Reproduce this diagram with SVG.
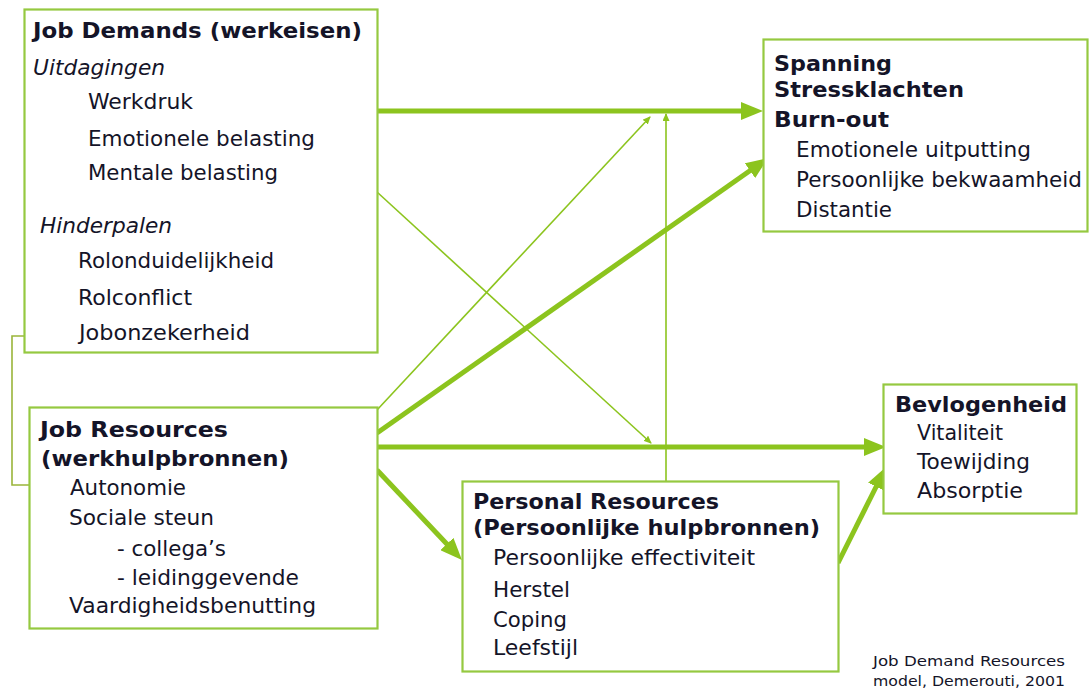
<svg xmlns="http://www.w3.org/2000/svg" width="1091" height="689" viewBox="0 0 1091 689">
<style>
.box{fill:#fff;stroke:#95c940;stroke-width:2.2}
.t{font-family:"DejaVu Sans","Liberation Sans",sans-serif;font-size:21.5px;fill:#141428}
.b{font-weight:bold}
.i{font-style:italic}
.cap{font-family:"DejaVu Sans","Liberation Sans",sans-serif;font-size:14px;fill:#141428}
.thick{stroke:#8cc41e;stroke-width:5;fill:none}
.thin{stroke:#8cc41e;stroke-width:1.6;fill:none}
</style>
<defs>
<marker id="big" markerUnits="userSpaceOnUse" markerWidth="22" markerHeight="18" viewBox="0 0 22 18" refX="12" refY="9" orient="auto"><path d="M0,0 L22,9 L0,18 z" fill="#8cc41e"/></marker>
<marker id="small" markerUnits="userSpaceOnUse" markerWidth="8" markerHeight="7" viewBox="0 0 8 7" refX="7" refY="3.5" orient="auto"><path d="M0,0 L8,3.5 L0,7 z" fill="#8cc41e"/></marker>
</defs>
<rect width="1091" height="689" fill="#fff"/>
<g id="connectors">
<polyline points="24,336 12,336 12,485 33,485" fill="none" stroke="#9ab53a" stroke-width="1.6"/>
<line class="thin" x1="377" y1="192" x2="651" y2="443" marker-end="url(#small)"/>
<line class="thin" x1="377" y1="410" x2="650" y2="117" marker-end="url(#small)"/>
<line class="thin" x1="666" y1="481" x2="666" y2="114" marker-end="url(#small)"/>
<line class="thick" x1="377" y1="111" x2="753" y2="111" marker-end="url(#big)"/>
<line class="thick" x1="377" y1="433" x2="759.8" y2="163.8" marker-end="url(#big)"/>
<line class="thick" x1="377" y1="447" x2="876" y2="447" marker-end="url(#big)"/>
<line class="thick" x1="377" y1="470" x2="455.1" y2="552.7" marker-end="url(#big)"/>
<line class="thick" x1="838" y1="563" x2="881.5" y2="476" marker-end="url(#big)"/>
</g>
<g id="job-demands">
<rect class="box" x="24.5" y="9.5" width="353" height="343"/>
<text class="t b" x="33" y="38" font-size="22.5" textLength="329" lengthAdjust="spacingAndGlyphs">Job Demands (werkeisen)</text>
<text class="t i" x="33" y="75" textLength="132" lengthAdjust="spacingAndGlyphs">Uitdagingen</text>
<text class="t" x="88" y="109" textLength="105" lengthAdjust="spacingAndGlyphs">Werkdruk</text>
<text class="t" x="88" y="146" textLength="227" lengthAdjust="spacingAndGlyphs">Emotionele  belasting</text>
<text class="t" x="88" y="180" textLength="190" lengthAdjust="spacingAndGlyphs">Mentale belasting</text>
<text class="t i" x="40" y="233" textLength="132" lengthAdjust="spacingAndGlyphs">Hinderpalen</text>
<text class="t" x="78" y="268" textLength="196" lengthAdjust="spacingAndGlyphs">Rolonduidelijkheid</text>
<text class="t" x="78" y="305" textLength="114" lengthAdjust="spacingAndGlyphs">Rolconflict</text>
<text class="t" x="79" y="340" textLength="171" lengthAdjust="spacingAndGlyphs">Jobonzekerheid</text>
</g>
<g id="job-resources">
<rect class="box" x="29.5" y="407.5" width="348" height="221"/>
<text class="t b" x="40" y="437" textLength="188" lengthAdjust="spacingAndGlyphs">Job Resources</text>
<text class="t b" x="41" y="466" textLength="248" lengthAdjust="spacingAndGlyphs">(werkhulpbronnen)</text>
<text class="t" x="70" y="495" textLength="116" lengthAdjust="spacingAndGlyphs">Autonomie</text>
<text class="t" x="69" y="525" textLength="145" lengthAdjust="spacingAndGlyphs">Sociale steun</text>
<text class="t" x="117" y="556" textLength="109" lengthAdjust="spacingAndGlyphs">- collega’s</text>
<text class="t" x="117" y="585" textLength="182" lengthAdjust="spacingAndGlyphs">- leidinggevende</text>
<text class="t" x="69" y="613" textLength="247" lengthAdjust="spacingAndGlyphs">Vaardigheidsbenutting</text>
</g>
<g id="spanning">
<rect class="box" x="763.5" y="39.5" width="324" height="192"/>
<text class="t b" x="774" y="71" textLength="118" lengthAdjust="spacingAndGlyphs">Spanning</text>
<text class="t b" x="774" y="97" textLength="190" lengthAdjust="spacingAndGlyphs">Stressklachten</text>
<text class="t b" x="774" y="127" textLength="115" lengthAdjust="spacingAndGlyphs">Burn-out</text>
<text class="t" x="796" y="157" textLength="235" lengthAdjust="spacingAndGlyphs">Emotionele uitputting</text>
<text class="t" x="796" y="187" textLength="286" lengthAdjust="spacingAndGlyphs">Persoonlijke bekwaamheid</text>
<text class="t" x="796" y="217" textLength="96" lengthAdjust="spacingAndGlyphs">Distantie</text>
</g>
<g id="bevlogenheid">
<rect class="box" x="883.5" y="384.5" width="193" height="129"/>
<text class="t b" x="895" y="412" textLength="172" lengthAdjust="spacingAndGlyphs">Bevlogenheid</text>
<text class="t" x="917" y="440" textLength="86" lengthAdjust="spacingAndGlyphs">Vitaliteit</text>
<text class="t" x="917" y="469" textLength="113" lengthAdjust="spacingAndGlyphs">Toewijding</text>
<text class="t" x="917" y="498" textLength="106" lengthAdjust="spacingAndGlyphs">Absorptie</text>
</g>
<g id="personal-resources">
<rect class="box" x="462.5" y="481.5" width="376" height="190"/>
<text class="t b" x="473" y="509" textLength="246" lengthAdjust="spacingAndGlyphs">Personal Resources</text>
<text class="t b" x="473" y="535" textLength="347" lengthAdjust="spacingAndGlyphs">(Persoonlijke hulpbronnen)</text>
<text class="t" x="493" y="565" textLength="262" lengthAdjust="spacingAndGlyphs">Persoonlijke effectiviteit</text>
<text class="t" x="493" y="597" textLength="77" lengthAdjust="spacingAndGlyphs">Herstel</text>
<text class="t" x="493" y="627" textLength="74" lengthAdjust="spacingAndGlyphs">Coping</text>
<text class="t" x="493" y="655" textLength="85" lengthAdjust="spacingAndGlyphs">Leefstijl</text>
</g>
<g id="caption">
<text class="cap" x="873" y="666" textLength="192" lengthAdjust="spacingAndGlyphs">Job Demand Resources</text>
<text class="cap" x="873" y="686" textLength="192" lengthAdjust="spacingAndGlyphs">model, Demerouti, 2001</text>
</g>
</svg>
